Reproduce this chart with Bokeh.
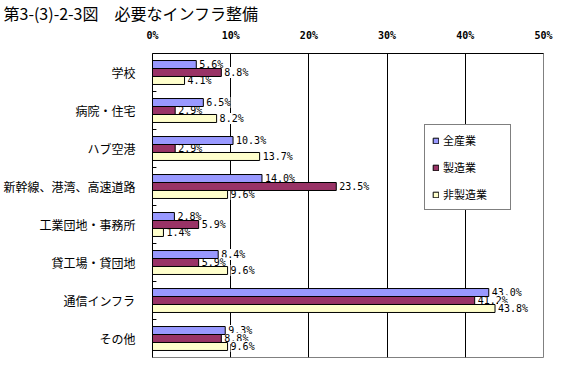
from bokeh.plotting import figure
from bokeh.models import (ColumnDataSource, FactorRange, Range1d, Legend,
                          LegendItem, FixedTicker)
from bokeh.transform import dodge
from bokeh.core.properties import value
from bokeh.embed import file_html
from bokeh.resources import INLINE

title_text = "第3-(3)-2-3図　必要なインフラ整備"
categories = ["学校", "病院・住宅", "ハブ空港", "新幹線、港湾、高速道路",
              "工業団地・事務所", "貸工場・貸団地", "通信インフラ", "その他"]
series_names = ["全産業", "製造業", "非製造業"]
all_industries = [5.6, 6.5, 10.3, 14.0, 2.8, 8.4, 43.0, 9.3]
manufacturing = [8.8, 2.9, 2.9, 23.5, 5.9, 5.9, 41.2, 8.8]
non_manufacturing = [4.1, 8.2, 13.7, 9.6, 1.4, 9.6, 43.8, 9.6]
x_ticks = [0, 10, 20, 30, 40, 50]
colors = ["#9999FF", "#993366", "#FFFFCC"]

JP = "Noto Sans CJK JP"
MONO = "DejaVu Sans Mono"

yr = FactorRange(factors=list(reversed(categories)), range_padding=0)
p = figure(width=561, height=366, x_range=Range1d(0, 50), y_range=yr,
           x_axis_location="above", output_backend="svg", toolbar_location=None,
           min_border_left=152, min_border_right=18, min_border_top=50,
           min_border_bottom=9, title=title_text)
p.background_fill_color = "white"
p.border_fill_color = "white"
p.outline_line_color = "#808080"
p.outline_line_width = 1

p.title.align = "left"
p.title.offset = -149
p.title.standoff = 0
p.title.vertical_align = "top"
p.title.text_font = JP
p.title.text_font_size = "16px"
p.title.text_font_style = "normal"
p.title.text_color = "black"

# axes
p.xaxis.ticker = FixedTicker(ticks=x_ticks)
p.xaxis.major_label_overrides = {t: f"{t}%" for t in x_ticks}
p.xaxis.major_tick_line_color = None
p.xaxis.minor_tick_line_color = None
p.xaxis.axis_line_color = "black"
p.xaxis.major_label_standoff = 7
p.xaxis.major_label_text_font = MONO
p.xaxis.major_label_text_font_size = "10px"
p.xaxis.major_label_text_font_style = "bold"
p.xaxis.major_label_text_color = "black"

p.yaxis.major_tick_line_color = None
p.yaxis.minor_tick_line_color = None
p.yaxis.axis_line_color = "black"
p.yaxis.major_label_standoff = 11
p.yaxis.major_label_text_font = JP
p.yaxis.major_label_text_font_size = "12px"
p.yaxis.major_label_text_color = "black"

p.ygrid.grid_line_color = None
p.xgrid.ticker = FixedTicker(ticks=x_ticks[1:-1])
p.xgrid.grid_line_color = "black"
p.xgrid.grid_line_alpha = 1

series = [all_industries, manufacturing, non_manufacturing]
bar_h = 0.21
offsets = [bar_h, 0.0, -bar_h]

for vals, off in zip(series, offsets):
    src = ColumnDataSource(dict(cat=categories, v=vals,
                                lab=[f"{v:.1f}%" for v in vals]))
    p.text(x="v", y=dodge("cat", off, range=yr), text="lab", source=src,
           x_offset=3, text_align="left", text_baseline="middle",
           text_font=value(MONO), text_font_size="10px", text_color="black",
           background_fill_color="white")

renderers = []
for vals, off, col in zip(series, offsets, colors):
    src = ColumnDataSource(dict(cat=categories, v=vals))
    r = p.hbar(y=dodge("cat", off, range=yr), left=0, right="v", height=bar_h,
               source=src, fill_color=col, line_color="black", line_width=1)
    renderers.append(r)

tsrc = ColumnDataSource(dict(cat=categories[:-1], x0=[0] * 7, x1=[0.5] * 7))
p.segment(x0="x0", x1="x1", y0=dodge("cat", -0.5, range=yr),
          y1=dodge("cat", -0.5, range=yr), source=tsrc, line_color="black",
          line_width=1)

legend = Legend(items=[LegendItem(label=n, renderers=[r])
                       for n, r in zip(series_names, renderers)],
                location=(272, 147), orientation="vertical")
legend.padding = 7
legend.spacing = 11
legend.margin = 0
legend.glyph_width = 7
legend.glyph_height = 7
legend.label_height = 7
legend.label_width = 60
legend.label_standoff = 4
legend.border_line_color = "black"
legend.border_line_width = 1
legend.background_fill_color = "white"
legend.background_fill_alpha = 1
legend.label_text_font = JP
legend.label_text_font_size = "11px"
legend.label_text_color = "black"
p.add_layout(legend)

open("out.html", "w").write(file_html(p, INLINE))
